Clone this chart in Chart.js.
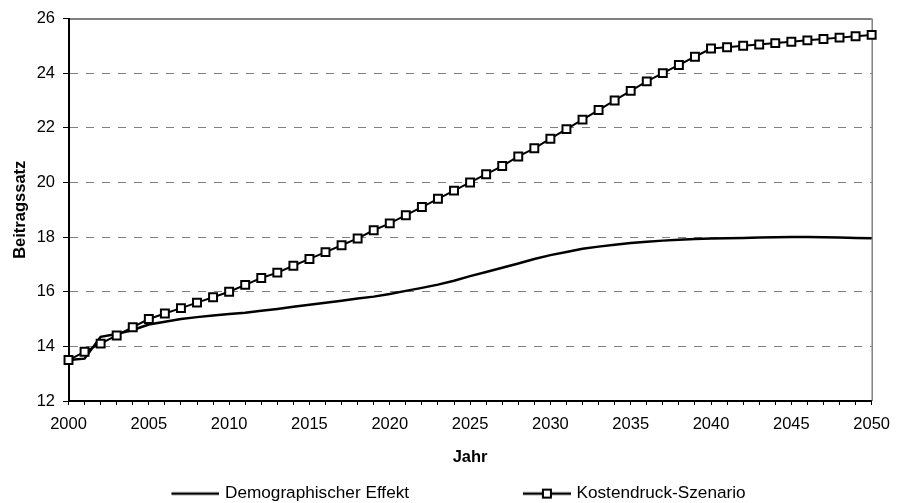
<!DOCTYPE html>
<html lang="de">
<head>
<meta charset="UTF-8">
<title>Beitragssatz</title>
<script src="https://cdn.jsdelivr.net/npm/chart.js"></script>
<style>
  html, body { margin: 0; padding: 0; background: #fff; }
  #wrap { width: 900px; height: 503px; }
</style>
</head>
<body>
<div id="wrap"><canvas id="myChart" width="900" height="503"></canvas></div>
<script>
// Werte
const years = [];
for (let y = 2000; y <= 2050; y++) years.push(y);

const demographie = [
  13.5, 13.55, 14.35, 14.45, 14.6, 14.8, 14.9, 15.0, 15.07, 15.13,
  15.18, 15.23, 15.3, 15.37, 15.45, 15.52, 15.6, 15.67, 15.75, 15.82,
  15.92, 16.03, 16.14, 16.26, 16.4, 16.57, 16.72, 16.88, 17.03, 17.2,
  17.34, 17.45, 17.57, 17.65, 17.72, 17.78, 17.83, 17.87, 17.9, 17.93,
  17.95, 17.96, 17.97, 17.98, 17.99, 18.0, 18.0, 17.99, 17.98, 17.97,
  17.96
];

const kostendruck = [
  13.5, 13.8, 14.1, 14.4, 14.7, 15.0, 15.2, 15.4, 15.6, 15.8,
  16.0, 16.25, 16.5, 16.7, 16.95, 17.2, 17.45, 17.7, 17.95, 18.25,
  18.5, 18.8, 19.1, 19.4, 19.7, 20.0, 20.3, 20.6, 20.95, 21.25,
  21.6, 21.95, 22.3, 22.65, 23.0, 23.35, 23.7, 24.0, 24.3, 24.6,
  24.9, 24.95, 25.0, 25.05, 25.1, 25.15, 25.2, 25.25, 25.3, 25.35,
  25.4
];

const seriesNames = ['Demographischer Effekt', 'Kostendruck-Szenario'];
const yTicks = [12, 14, 16, 18, 20, 22, 24, 26];

Chart.defaults.font.family = '"Liberation Sans", Arial, sans-serif';
Chart.defaults.font.size = 16.5;
Chart.defaults.color = '#000';

// Legendensymbole: Linie (mit Quadrat), rechts im Bild
const BOX_W = 82;
function legendIcon(withMarker) {
  const c = document.createElement('canvas');
  c.width = BOX_W + 6;
  c.height = 14;
  const g = c.getContext('2d');
  const x0 = c.width - 48;
  g.strokeStyle = '#000';
  g.lineWidth = 2.5;
  g.beginPath();
  g.moveTo(x0, 7);
  g.lineTo(c.width, 7);
  g.stroke();
  if (withMarker) {
    const cx = x0 + 24;
    g.fillStyle = '#fff';
    g.lineWidth = 2;
    g.fillRect(cx - 4, 3, 8, 8);
    g.strokeRect(cx - 4, 3, 8, 8);
  }
  return c;
}
const icons = [legendIcon(false), legendIcon(true)];

// Rahmen oben und rechts
const framePlugin = {
  id: 'frame',
  beforeDatasetsDraw(chart) {
    const { ctx, chartArea: a } = chart;
    ctx.save();
    ctx.lineWidth = 1;
    ctx.strokeStyle = '#000';
    ctx.beginPath();
    ctx.moveTo(a.left, a.top + 0.5);
    ctx.lineTo(a.right, a.top + 0.5);
    ctx.stroke();
    ctx.strokeStyle = '#444';
    ctx.beginPath();
    ctx.moveTo(a.right + 0.5, a.top);
    ctx.lineTo(a.right + 0.5, a.bottom);
    ctx.stroke();
    ctx.restore();
  }
};

const ctx = document.getElementById('myChart').getContext('2d');
new Chart(ctx, {
  type: 'line',
  data: {
    labels: years,
    datasets: [
      {
        label: seriesNames[1],
        data: kostendruck,
        borderColor: '#000',
        borderWidth: 2,
        pointStyle: 'rect',
        pointRadius: 5.6,
        pointBorderWidth: 2,
        pointBackgroundColor: '#fff',
        pointBorderColor: '#000',
        tension: 0,
        clip: false
      },
      {
        label: seriesNames[0],
        data: demographie,
        borderColor: '#000',
        borderWidth: 2.5,
        pointRadius: 0,
        tension: 0,
        clip: false
      }
    ]
  },
  options: {
    responsive: false,
    animation: false,
    layout: { padding: { top: 18.5, right: 20, left: 0, bottom: 0 } },
    scales: {
      x: {
        type: 'category',
        offset: false,
        grid: {
          drawOnChartArea: false,
          drawTicks: true,
          tickLength: 4,
          tickColor: '#000',
          tickWidth: 1
        },
        border: { color: '#000', width: 2 },
        ticks: {
          autoSkip: false,
          maxRotation: 0,
          minRotation: 0,
          padding: 10,
          callback: function(val, i) {
            const y = years[i];
            return y % 5 === 0 ? String(y) : '';
          }
        },
        title: {
          display: true,
          text: 'Jahr',
          font: { weight: 'bold' },
          padding: { top: 0, bottom: 7.6 }
        },
        afterFit: function(scale) { scale.height = 74; }
      },
      y: {
        min: 12,
        max: 26,
        afterBuildTicks: function(scale) {
          scale.ticks = yTicks.map(v => ({ value: v }));
        },
        grid: {
          color: c => (c.tick && (c.tick.value === 12 || c.tick.value === 26)) ? 'rgba(0,0,0,0)' : '#808080',
          lineWidth: 1,
          tickLength: 5.5,
          tickColor: '#000',
          tickWidth: 1
        },
        border: { color: '#000', width: 2, dash: [8, 8] },
        ticks: { padding: 8 },
        title: {
          display: true,
          text: 'Beitragssatz',
          font: { weight: 'bold' },
          padding: { top: 11, bottom: 0 }
        },
        afterFit: function(scale) { scale.width = 68.5; }
      }
    },
    plugins: {
      tooltip: { enabled: false },
      legend: {
        position: 'bottom',
        maxHeight: 28,
        labels: {
          usePointStyle: true,
          pointStyleWidth: BOX_W,
          padding: 10,
          color: '#000',
          font: { size: 17.2 },
          generateLabels: function() {
            return [
              { text: seriesNames[0] + '\u00a0'.repeat(14), pointStyle: icons[0], fillStyle: '#000', strokeStyle: '#000', lineWidth: 0, hidden: false, datasetIndex: 1, fontColor: '#000' },
              { text: seriesNames[1], pointStyle: icons[1], fillStyle: '#000', strokeStyle: '#000', lineWidth: 0, hidden: false, datasetIndex: 0, fontColor: '#000' }
            ];
          }
        }
      }
    }
  },
  plugins: [framePlugin]
});
</script>
</body>
</html>
